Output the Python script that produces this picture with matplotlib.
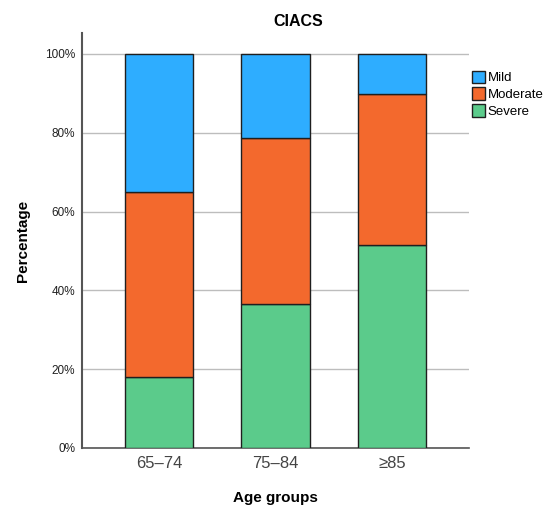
import matplotlib
matplotlib.use("Agg")
import matplotlib.pyplot as plt
import numpy as np

plt.rcParams['font.family'] = ['Liberation Sans', 'DejaVu Sans']

# data (percent)
groups = ['65–74', '75–84', '≥85']
severe = [17.9, 36.6, 51.4]
moderate = [47.1, 42.0, 38.3]
mild = [35.0, 21.4, 10.3]
series_names = ['Mild', 'Moderate', 'Severe']
colors = {'Mild': '#2eadff', 'Moderate': '#f3692d', 'Severe': '#5bcb8b'}

fig = plt.figure(figsize=(5.48, 5.22), dpi=100)
ax = fig.add_axes([0.1496, 0.1418, 0.7062, 0.795])

x = np.arange(len(groups))
w = 0.59
edge = '#1f1f1f'
b_sev = ax.bar(x, severe, w, color=colors['Severe'], edgecolor=edge, linewidth=1, zorder=3, label='Severe')
b_mod = ax.bar(x, moderate, w, bottom=severe, color=colors['Moderate'], edgecolor=edge, linewidth=1, zorder=3, label='Moderate')
b_mild = ax.bar(x, mild, w, bottom=np.array(severe) + np.array(moderate), color=colors['Mild'],
                edgecolor=edge, linewidth=1, zorder=3, label='Mild')

ax.set_xlim(-0.66, 2.66)
ax.set_ylim(0, 105.3)
ax.set_yticks([0, 20, 40, 60, 80, 100])
ax.set_yticklabels(['0%', '20%', '40%', '60%', '80%', '100%'], fontsize=8.5, color='#222222')
ax.set_xticks(x)
ax.set_xticklabels(groups, fontsize=12, color='#444444')
ax.tick_params(axis='both', length=0)
ax.tick_params(axis='y', pad=5)
ax.tick_params(axis='x', pad=6)
ax.grid(axis='y', color='#bdbdbd', linewidth=1, zorder=0)
for s in ['top', 'right']:
    ax.spines[s].set_visible(False)
ax.spines['left'].set_color('#555555')
ax.spines['left'].set_linewidth(1.5)
ax.spines['bottom'].set_color('#555555')
ax.spines['bottom'].set_linewidth(1.2)

ax.set_ylabel('Percentage', fontsize=11, fontweight='bold', labelpad=11)
ax.set_xlabel('Age groups', fontsize=11, fontweight='bold', labelpad=14)
fig.text(298 / 548, 1 - 22 / 522, 'CIACS', fontsize=11.5, fontweight='bold', ha='center', va='center')

handles = [b_mild, b_mod, b_sev]
leg = fig.legend(handles, series_names, loc='upper left', bbox_to_anchor=(465 / 548, 1 - 64 / 522),
                 frameon=False, fontsize=9.5, handlelength=1.0, handleheight=1.1,
                 handletextpad=0.2, labelspacing=0.22, borderpad=0)

fig.savefig('out.png', dpi=100)
